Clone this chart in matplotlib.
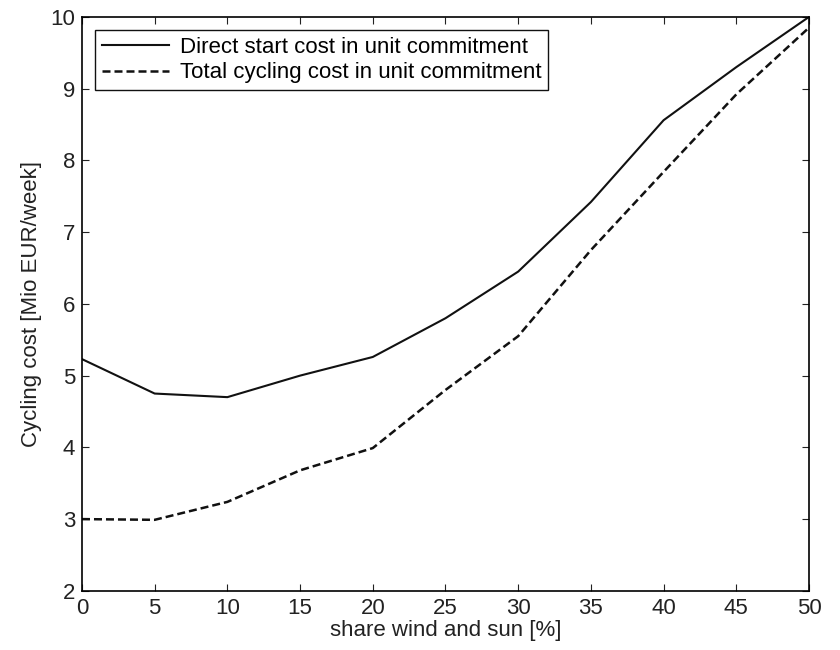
import matplotlib
matplotlib.use("Agg")
import matplotlib.pyplot as plt

plt.rcParams['font.family'] = ['Liberation Sans', 'DejaVu Sans']

# share of wind and sun [%]
share = [0, 5, 10, 15, 20, 25, 30, 35, 40, 45, 50]
# cycling cost [Mio EUR/week]
direct_start = [5.23, 4.75, 4.70, 5.00, 5.26, 5.80, 6.45, 7.42, 8.56, 9.30, 10.0]
total_cycling = [3.00, 2.99, 3.24, 3.68, 3.99, 4.80, 5.55, 6.75, 7.84, 8.92, 9.85]

xticks = list(range(0, 55, 5))
yticks = list(range(2, 11))


def main():
    fig = plt.figure(figsize=(8.4, 6.5), dpi=100)
    ax = fig.add_axes([0.0976, 0.091, 0.8655, 0.883])

    ax.plot(share, direct_start, color='#111111', lw=1.5, ls='-',
            label='Direct start cost in unit commitment')
    ax.plot(share, total_cycling, color='#111111', lw=1.8, ls=(0, (3.2, 1.6)),
            label='Total cycling cost in unit commitment')

    ax.set_xlim(0, 50)
    ax.set_ylim(2, 10)
    ax.set_xticks(xticks)
    ax.set_yticks(yticks)
    ax.tick_params(direction='in', top=True, right=True, length=5,
                   width=0.8, labelsize=16, colors='#222222', pad=5)
    for s in ax.spines.values():
        s.set_linewidth(1.2)

    ax.set_xlabel('share wind and sun [%]', fontsize=16, color='#222222', labelpad=1)
    ax.set_ylabel('Cycling cost [Mio EUR/week]', fontsize=16, color='#222222', labelpad=6)

    leg = ax.legend(loc='upper left', fontsize=16, frameon=True, fancybox=False,
                    handlelength=3.0, borderaxespad=0.6, borderpad=0.3,
                    labelspacing=0.2, handletextpad=0.5)
    leg.get_frame().set_edgecolor('#111111')
    leg.get_frame().set_linewidth(1.0)
    leg.get_frame().set_alpha(1)

    fig.savefig('out.png', dpi=100)


if __name__ == "__main__":
    main()
